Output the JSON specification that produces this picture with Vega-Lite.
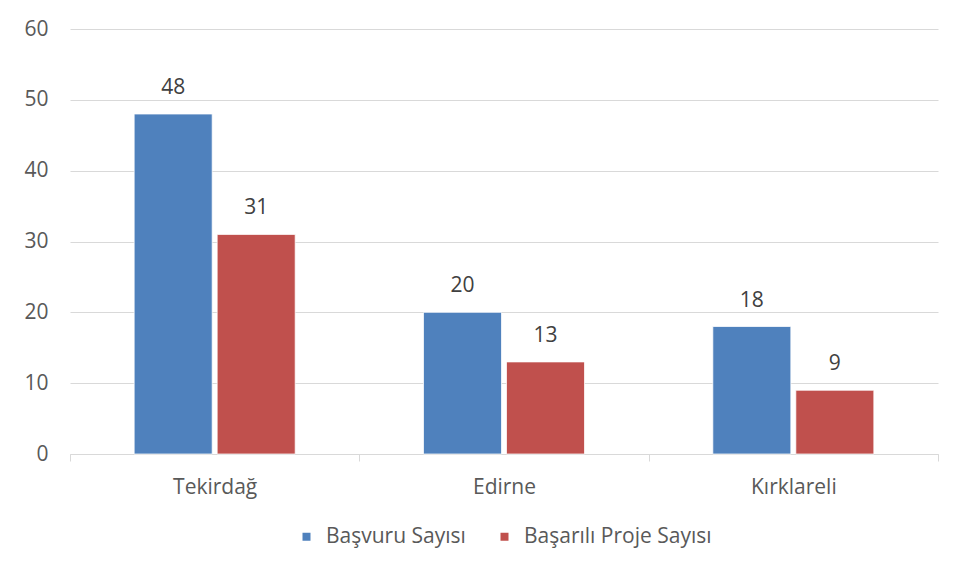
{
  "$schema": "https://vega.github.io/schema/vega-lite/v6.json",
  "width": 868,
  "height": 425,
  "autosize": {"type": "none"},
  "padding": {"left": 70, "top": 29, "right": 19, "bottom": 124},
  "background": "white",
  "config": {
    "view": {"stroke": null},
    "font": "Open Sans",
    "legend": {"layout": {"bottom": {"anchor": "middle"}}}
  },
  "data": {
    "values": [
      {"il": "Tekirdağ", "seri": "Başvuru Sayısı", "deger": 48},
      {"il": "Tekirdağ", "seri": "Başarılı Proje Sayısı", "deger": 31},
      {"il": "Edirne", "seri": "Başvuru Sayısı", "deger": 20},
      {"il": "Edirne", "seri": "Başarılı Proje Sayısı", "deger": 13},
      {"il": "Kırklareli", "seri": "Başvuru Sayısı", "deger": 18},
      {"il": "Kırklareli", "seri": "Başarılı Proje Sayısı", "deger": 9}
    ]
  },
  "encoding": {
    "x": {
      "field": "il",
      "type": "nominal",
      "sort": ["Tekirdağ", "Edirne", "Kırklareli"],
      "scale": {"paddingInner": 0, "paddingOuter": 0},
      "axis": {
        "title": null,
        "labelAngle": 0,
        "tickBand": "extent",
        "ticks": true,
        "tickColor": "#D9D9D9",
        "tickSize": 7,
        "domainColor": "#D9D9D9",
        "grid": false,
        "labelFontSize": 21,
        "labelColor": "#595959",
        "labelPadding": 15
      }
    },
    "xOffset": {
      "field": "seri",
      "sort": ["Başvuru Sayısı", "Başarılı Proje Sayısı"],
      "scale": {"paddingInner": 0.06, "paddingOuter": 0.773}
    },
    "y": {
      "field": "deger",
      "type": "quantitative",
      "scale": {"domain": [0, 60]},
      "axis": {
        "title": null,
        "values": [0, 10, 20, 30, 40, 50, 60],
        "grid": true,
        "gridColor": "#D9D9D9",
        "domain": false,
        "ticks": false,
        "labelPadding": 22,
        "labelFontSize": 21,
        "labelColor": "#595959"
      }
    }
  },
  "layer": [
    {
      "mark": {"type": "bar", "stroke": "white", "strokeWidth": 0.75},
      "encoding": {
        "color": {
          "field": "seri",
          "type": "nominal",
          "sort": ["Başvuru Sayısı", "Başarılı Proje Sayısı"],
          "scale": {"domain": ["Başvuru Sayısı", "Başarılı Proje Sayısı"], "range": ["#4F81BD", "#C0504D"]},
          "legend": {
            "title": null,
            "orient": "bottom",
            "direction": "horizontal",
            "symbolType": "square",
            "symbolSize": 64,
            "symbolStrokeWidth": 0,
            "labelFontSize": 21,
            "labelColor": "#595959",
            "labelLimit": 400,
            "labelOffset": 9,
            "columnPadding": 28,
            "offset": 29
          }
        }
      }
    },
    {
      "mark": {"type": "text", "baseline": "alphabetic", "dy": -20, "fontSize": 21, "color": "#404040"},
      "encoding": {"text": {"field": "deger", "type": "quantitative"}}
    }
  ]
}
